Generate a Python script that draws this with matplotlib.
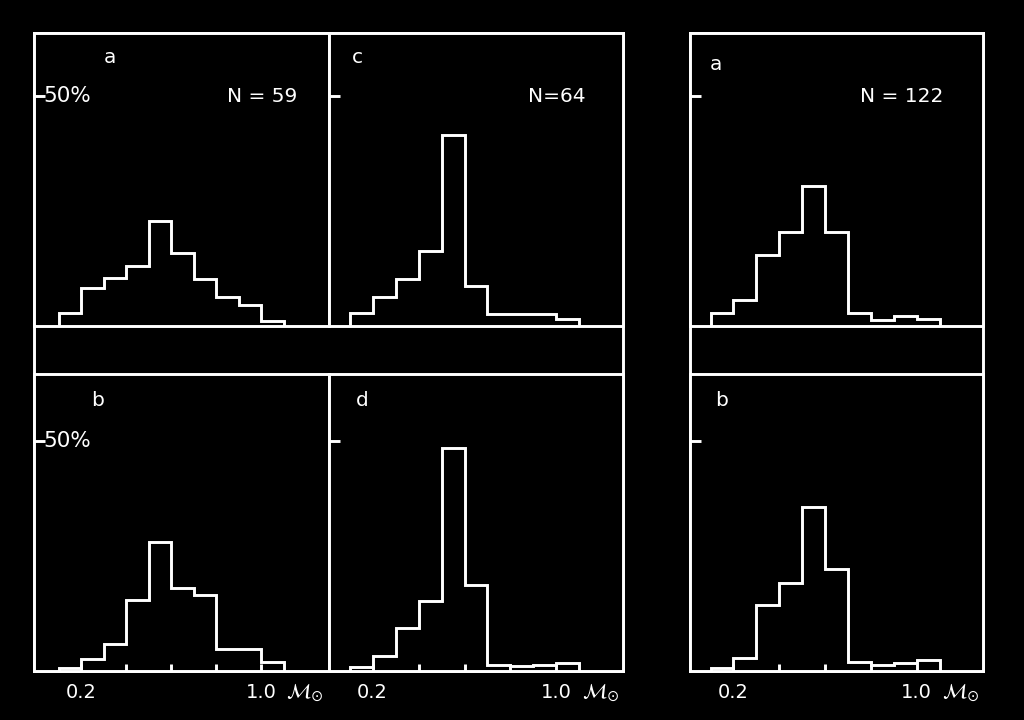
import numpy as np
import matplotlib
matplotlib.use('Agg')
import matplotlib.pyplot as plt

# DADOS (percentagens por intervalo de massa)

bordas = [0.1, 0.2, 0.3, 0.4, 0.5, 0.6, 0.7, 0.8, 0.9, 1.0, 1.1]

hist_a = [2.8, 8.3, 10.5, 13.0, 22.8, 15.9, 10.2, 6.2, 4.6, 1.0]
hist_b = [0.6, 2.6, 5.9, 15.4, 28.1, 18.1, 16.5, 4.7, 4.7, 2.0]
hist_c = [2.8, 6.2, 10.2, 16.2, 41.6, 8.6, 2.7, 2.7, 2.7, 1.5]
hist_d = [0.9, 3.3, 9.3, 15.3, 48.6, 18.8, 1.2, 1.1, 1.3, 1.7]
hist_ra = [2.8, 5.7, 15.4, 20.4, 30.4, 20.4, 2.8, 1.4, 2.2, 1.5]
hist_rb = [0.6, 2.8, 14.3, 19.2, 35.7, 22.2, 2.0, 1.2, 1.7, 2.4]

rotulos_n = ['N = 59', 'N=64', 'N = 122']
xticks = [0.2, 0.4, 0.6, 0.8, 1.0]
xtick_labels = ['0.2', '', '', '', '1.0']

BRANCO = 'white'
LW = 2.1

plt.rcParams['font.family'] = 'DejaVu Sans'

fig = plt.figure(figsize=(10.24, 7.2), dpi=100, facecolor='black')
W, H = 1024, 720


def eixo(x0, x1, y0, y1):
    # coordenadas em pixels (y a partir do topo)
    return fig.add_axes([x0 / W, 1 - y1 / H, (x1 - x0) / W, (y1 - y0) / H])


def moldura(x0, x1, y0, y1):
    ax = eixo(x0, x1, y0, y1)
    ax.set_facecolor('none')
    ax.set_xticks([])
    ax.set_yticks([])
    for s in ax.spines.values():
        s.set_color(BRANCO)
        s.set_linewidth(LW)
    return ax


def painel(x0, x1, y0, y1, valores, xlim, ylim, inferior):
    ax = eixo(x0, x1, y0, y1)
    ax.set_facecolor('black')
    ax.stairs(valores, bordas, baseline=0, color=BRANCO, linewidth=LW)
    ax.set_xlim(*xlim)
    ax.set_ylim(*ylim)
    for s in ax.spines.values():
        s.set_color(BRANCO)
        s.set_linewidth(LW)
    ax.set_yticks([50])
    ax.set_yticklabels([])
    ax.tick_params(axis='y', direction='in', length=8, width=LW, color=BRANCO)
    if inferior:
        ax.set_xticks(xticks)
        ax.set_xticklabels(xtick_labels)
        ax.tick_params(axis='x', direction='in', length=5, width=LW,
                       color=BRANCO, labelcolor=BRANCO, labelsize=14, pad=9)
        ax.text(1.11, -0.035, r'$\mathcal{M}_{\odot}$', color=BRANCO, fontsize=15,
                transform=ax.get_xaxis_transform(), ha='left', va='top')
    else:
        ax.set_xticks([])
    return ax


ylim_sup = (0, 63.7)
ylim_inf = (0, 64.6)
xlim_1 = (-0.01, 1.30)
xlim_2 = (0.01, 1.29)

# molduras externas dos dois grupos
moldura(34, 623, 33, 671)
moldura(690, 983, 33, 671)

ax_a = painel(34, 329, 33, 326, hist_a, xlim_1, ylim_sup, False)
ax_c = painel(329, 623, 33, 326, hist_c, xlim_2, ylim_sup, False)
ax_ra = painel(690, 983, 33, 326, hist_ra, xlim_2, ylim_sup, False)
ax_b = painel(34, 329, 374, 671, hist_b, xlim_1, ylim_inf, True)
ax_d = painel(329, 623, 374, 671, hist_d, xlim_2, ylim_inf, True)
ax_rb = painel(690, 983, 374, 671, hist_rb, xlim_2, ylim_inf, True)

fs = 14.5
yt = lambda ax: ax.get_yaxis_transform()

ax_a.text(0.258, 0.918, 'a', color=BRANCO, fontsize=fs, transform=ax_a.transAxes, ha='center', va='center')
ax_a.text(0.03, 50, '50%', color=BRANCO, fontsize=15.5, transform=yt(ax_a), ha='left', va='center')
ax_a.text(0.773, 50, rotulos_n[0], color=BRANCO, fontsize=fs, transform=yt(ax_a), ha='center', va='center')

ax_c.text(0.095, 0.918, 'c', color=BRANCO, fontsize=fs, transform=ax_c.transAxes, ha='center', va='center')
ax_c.text(0.776, 50, rotulos_n[1], color=BRANCO, fontsize=fs, transform=yt(ax_c), ha='center', va='center')

ax_ra.text(0.089, 0.891, 'a', color=BRANCO, fontsize=fs, transform=ax_ra.transAxes, ha='center', va='center')
ax_ra.text(0.724, 50, rotulos_n[2], color=BRANCO, fontsize=fs, transform=yt(ax_ra), ha='center', va='center')

ax_b.text(0.217, 0.912, 'b', color=BRANCO, fontsize=fs, transform=ax_b.transAxes, ha='center', va='center')
ax_b.text(0.03, 50, '50%', color=BRANCO, fontsize=15.5, transform=yt(ax_b), ha='left', va='center')

ax_d.text(0.112, 0.912, 'd', color=BRANCO, fontsize=fs, transform=ax_d.transAxes, ha='center', va='center')

ax_rb.text(0.109, 0.912, 'b', color=BRANCO, fontsize=fs, transform=ax_rb.transAxes, ha='center', va='center')

fig.savefig('out.png', dpi=100, facecolor='black')
